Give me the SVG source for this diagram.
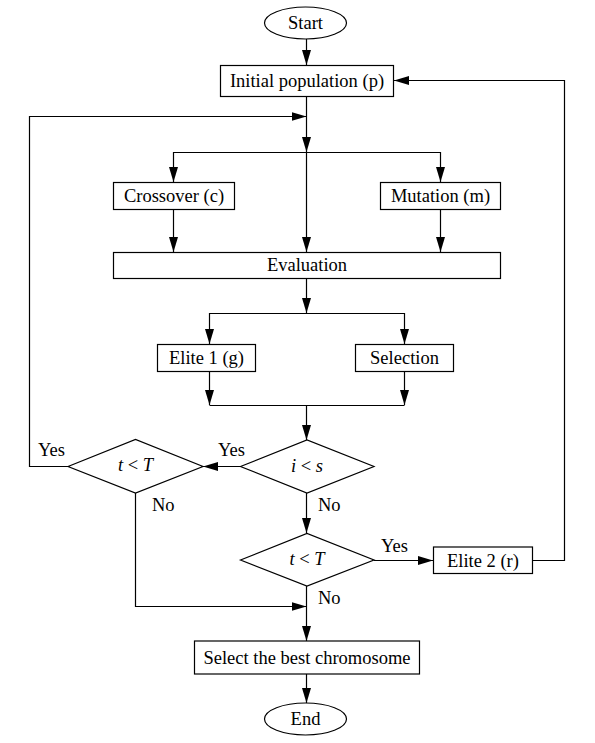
<svg xmlns="http://www.w3.org/2000/svg" width="595" height="743" viewBox="0 0 595 743">
<style>
.n{fill:#fff;stroke:#000;stroke-width:1.2}
.t{font-family:"Liberation Serif","Times New Roman",serif;font-size:18.5px;fill:#000;text-anchor:middle}
.l{font-family:"Liberation Serif","Times New Roman",serif;font-size:18.5px;fill:#000}
.c{fill:none;stroke:#000;stroke-width:1.2}
.i{font-style:italic}
</style>
<defs>
<marker id="a" markerUnits="userSpaceOnUse" markerWidth="16" markerHeight="9" refX="15" refY="4.5" orient="auto">
<path d="M0,0 L15,4.5 L0,9 z" fill="#000"/>
</marker>
</defs>
<rect width="595" height="743" fill="#fff"/>
<g id="connectors">
<path class="c" d="M306.5,39 V65" marker-end="url(#a)"/>
<path class="c" d="M306.5,96 V152" marker-end="url(#a)"/>
<path class="c" d="M306.5,152 V252" marker-end="url(#a)"/>
<path class="c" d="M173.5,152.5 H440.5"/>
<path class="c" d="M173.5,152 V182" marker-end="url(#a)"/>
<path class="c" d="M440.5,152 V182" marker-end="url(#a)"/>
<path class="c" d="M173.5,209 V252" marker-end="url(#a)"/>
<path class="c" d="M440.5,209 V252" marker-end="url(#a)"/>
<path class="c" d="M306.5,279 V313" marker-end="url(#a)"/>
<path class="c" d="M209.5,313.5 H404.5"/>
<path class="c" d="M209.5,313 V344" marker-end="url(#a)"/>
<path class="c" d="M404.5,313 V344" marker-end="url(#a)"/>
<path class="c" d="M209.5,371 V405" marker-end="url(#a)"/>
<path class="c" d="M404.5,371 V405" marker-end="url(#a)"/>
<path class="c" d="M209.5,405.5 H404.5"/>
<path class="c" d="M306.5,405 V440" marker-end="url(#a)"/>
<path class="c" d="M240.5,466.5 H203" marker-end="url(#a)"/>
<path class="c" d="M68,466.5 H29.5 V116.5 H306.5" marker-end="url(#a)"/>
<path class="c" d="M306.5,493 V533" marker-end="url(#a)"/>
<path class="c" d="M374,560.5 H433" marker-end="url(#a)"/>
<path class="c" d="M533,560.5 H564.5 V80.5 H394" marker-end="url(#a)"/>
<path class="c" d="M135.5,493 V606.5 H306.5" marker-end="url(#a)"/>
<path class="c" d="M306.5,586 V641" marker-end="url(#a)"/>
<path class="c" d="M306.5,674 V703" marker-end="url(#a)"/>
</g>
<g id="start">
<ellipse class="n" cx="305.5" cy="23" rx="41" ry="16"/>
<text class="t" x="305.5" y="29">Start</text>
</g>
<g id="initial">
<rect class="n" x="220.5" y="65.5" width="173" height="31"/>
<text class="t" x="307" y="87">Initial population (p)</text>
</g>
<g id="crossover">
<rect class="n" x="113.5" y="182.5" width="121" height="27"/>
<text class="t" x="174" y="202">Crossover (c)</text>
</g>
<g id="mutation">
<rect class="n" x="380.5" y="182.5" width="120" height="27"/>
<text class="t" x="440.5" y="202">Mutation (m)</text>
</g>
<g id="evaluation">
<rect class="n" x="113.5" y="252.5" width="387" height="26"/>
<text class="t" x="307" y="271">Evaluation</text>
</g>
<g id="elite1">
<rect class="n" x="157.5" y="344.5" width="98" height="27"/>
<text class="t" x="206.5" y="364">Elite 1 (g)</text>
</g>
<g id="selection">
<rect class="n" x="355.5" y="344.5" width="98" height="27"/>
<text class="t" x="404.5" y="364">Selection</text>
</g>
<g id="dec-left">
<polygon class="n" points="68,466.5 135.5,439.5 203,466.5 135.5,493"/>
<text class="t" x="135.5" y="471"><tspan class="i">t</tspan> &lt; <tspan class="i">T</tspan></text>
</g>
<g id="dec-is">
<polygon class="n" points="240.5,466.5 307,440 374,466.5 307,493"/>
<text class="t" x="307" y="472"><tspan class="i">i</tspan> &lt; <tspan class="i">s</tspan></text>
</g>
<g id="dec-lower">
<polygon class="n" points="240.5,560 307,533.5 374,560 307,586"/>
<text class="t" x="307" y="565"><tspan class="i">t</tspan> &lt; <tspan class="i">T</tspan></text>
</g>
<g id="elite2">
<rect class="n" x="433.5" y="547" width="99" height="26.5"/>
<text class="t" x="483" y="567">Elite 2 (r)</text>
</g>
<g id="best">
<rect class="n" x="194.5" y="641" width="225" height="33"/>
<text class="t" x="307" y="663.5">Select the best chromosome</text>
</g>
<g id="end">
<ellipse class="n" cx="305.5" cy="719" rx="41" ry="16"/>
<text class="t" x="305.5" y="725">End</text>
</g>
<g id="labels">
<text class="l" x="38" y="456">Yes</text>
<text class="l" x="218" y="456">Yes</text>
<text class="l" x="381" y="552">Yes</text>
<text class="l" x="152" y="511">No</text>
<text class="l" x="318" y="511">No</text>
<text class="l" x="318" y="604">No</text>
</g>
</svg>
